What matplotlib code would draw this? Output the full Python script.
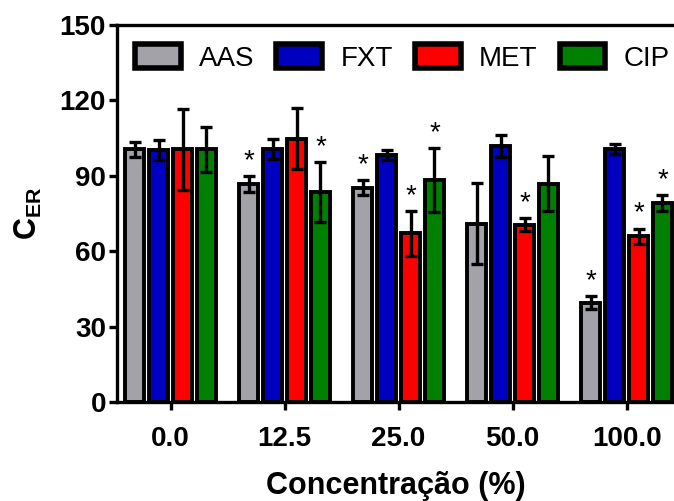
import numpy as np
import matplotlib
matplotlib.use("Agg")
import matplotlib.pyplot as plt

plt.rcParams['font.family'] = ['Liberation Sans', 'DejaVu Sans']
plt.rcParams['mathtext.fontset'] = 'custom'
plt.rcParams['mathtext.rm'] = 'Liberation Sans'
plt.rcParams['mathtext.bf'] = 'Liberation Sans:bold'

conc = ["0.0", "12.5", "25.0", "50.0", "100.0"]
series = ["AAS", "FXT", "MET", "CIP"]
colores = ["#A2A2A8", "#0000C0", "#FF0000", "#008000"]

aas = [100.5, 86.7, 85.2, 71.0, 39.5]
aas_err = [3.0, 3.3, 3.0, 16.0, 2.5]
fxt = [100.3, 100.5, 98.3, 101.9, 100.5]
fxt_err = [4.0, 4.0, 2.0, 4.5, 2.0]
met = [100.5, 104.8, 67.1, 70.6, 66.0]
met_err = [16.0, 12.0, 9.0, 2.5, 3.0]
cip = [100.5, 83.5, 88.2, 86.9, 79.2]
cip_err = [9.0, 12.0, 12.8, 11.0, 3.2]

# asteriscos (significancia) por serie
aas_sig = [False, True, True, False, True]
fxt_sig = [False, False, False, False, False]
met_sig = [False, False, True, True, True]
cip_sig = [False, True, True, False, True]

valores = [aas, fxt, met, cip]
errores = [aas_err, fxt_err, met_err, cip_err]
sigs = [aas_sig, fxt_sig, met_sig, cip_sig]

fig = plt.figure(figsize=(6.74, 5.01), dpi=100)
ax = fig.add_axes([117/674, 99/501, 557/674, 377/501])

x = np.arange(len(conc))
paso = 0.21
ancho = 0.165
for i in range(4):
    pos = x + (i - 1.5) * paso
    ax.bar(pos, valores[i], ancho, color=colores[i], edgecolor="black",
           linewidth=2.8, label=series[i], zorder=2)
    ax.errorbar(pos, valores[i], yerr=errores[i], fmt="none", ecolor="black",
                elinewidth=2.4, capsize=4.5, capthick=2.4, zorder=3)
    for j in range(len(conc)):
        if sigs[i][j]:
            ax.text(pos[j], valores[i][j] + errores[i][j] + 0.8, "*",
                    ha="center", va="bottom", fontsize=20, zorder=4)

ax.set_xlim(-0.47, 4.416)
ax.set_ylim(0, 150)
ax.set_yticks([0, 30, 60, 90, 120, 150])
ax.set_xticks(x)
ax.set_xticklabels(conc)
for lab in ax.get_xticklabels() + ax.get_yticklabels():
    lab.set_fontweight("bold")
    lab.set_fontsize(20)
ax.tick_params(axis="both", width=2.4, length=6, direction="out")
ax.tick_params(axis="x", pad=11)
ax.tick_params(axis="y", pad=2)

ax.spines["right"].set_visible(False)
for s in ["left", "bottom", "top"]:
    ax.spines[s].set_linewidth(2.4)

ax.set_xlabel("Concentração (%)", fontsize=22, fontweight="bold", labelpad=14)
ax.set_ylabel(r"$\mathbf{C_{ER}}$", fontsize=22, labelpad=11)

leg = ax.legend(loc="upper center", ncol=4, frameon=False, fontsize=20,
                handlelength=1.65, handleheight=0.95, columnspacing=0.8,
                handletextpad=0.65, bbox_to_anchor=(0.512, 1.0),
                borderaxespad=0.3)
for h in leg.legend_handles:
    h.set_linewidth(4)

plt.savefig("out.png", dpi=100)
